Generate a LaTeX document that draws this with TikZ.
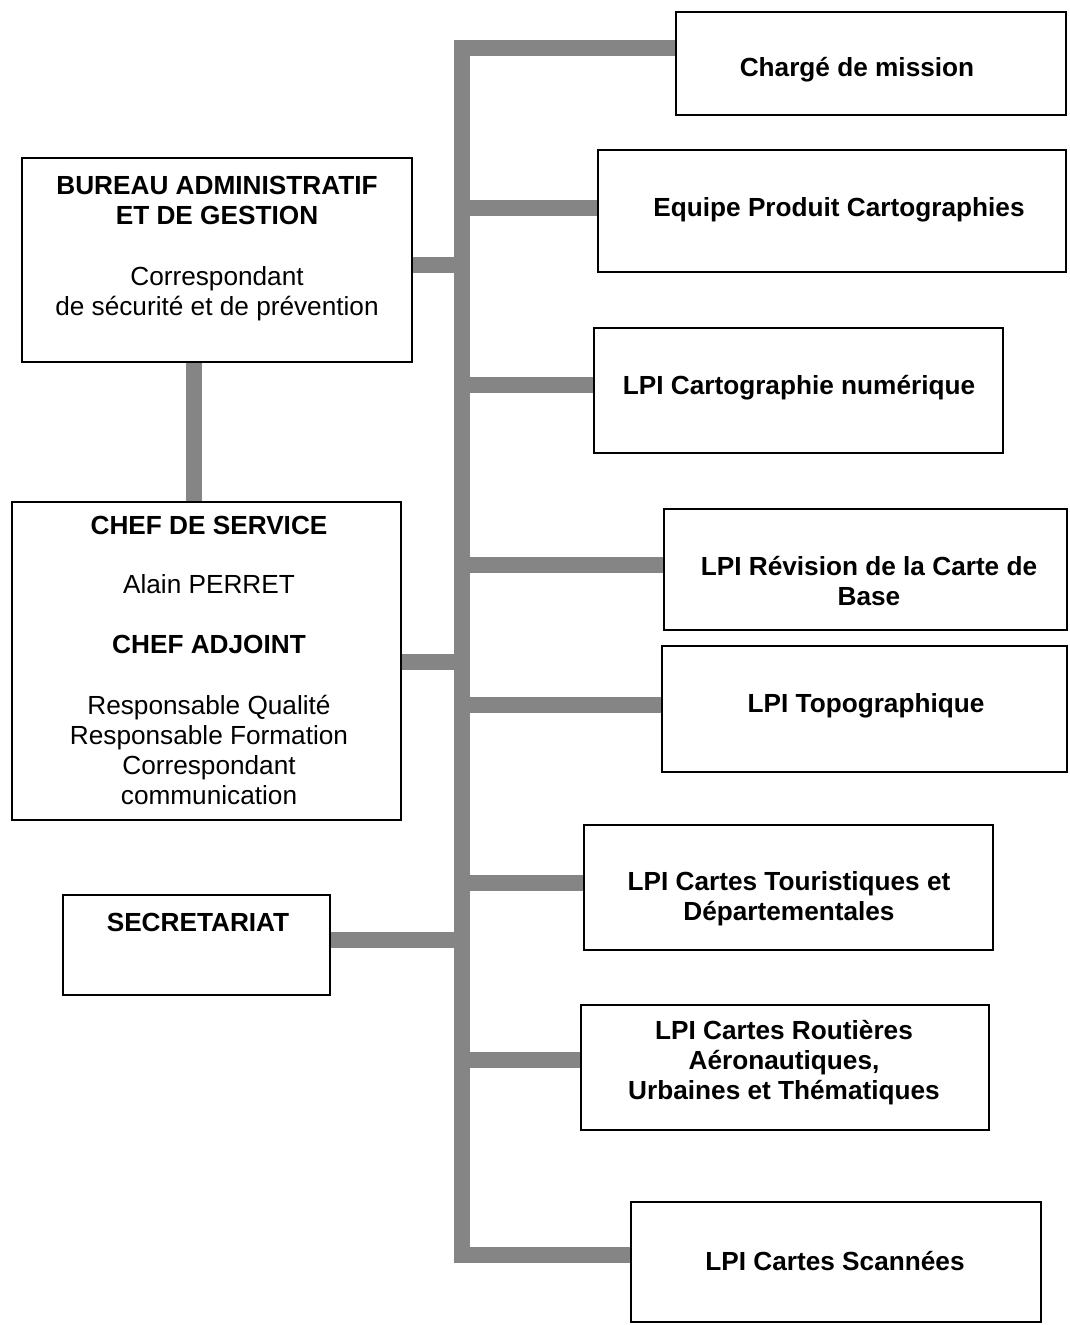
\documentclass[tikz,border=0pt]{standalone}
\usepackage{fontspec}
\setmainfont{Liberation Sans}
\usetikzlibrary{backgrounds}
\begin{document}
\begin{tikzpicture}[x=1pt,y=-1pt,
  box/.style={draw=black, line width=2pt, rectangle, inner sep=0pt},
  conn/.style={line width=16pt, draw=black!48, line join=miter, line cap=butt},
  lbl/.style={align=center, font=\fontsize{26.2}{30}\selectfont\bfseries, inner sep=0pt},
  ]
\useasboundingbox (0,0) rectangle (1069,1325);

% boxes
\node[box, minimum width=390pt, minimum height=103pt] (charge) at (871,63.5) {};
\node[box, minimum width=468pt, minimum height=122pt] (equipe) at (832,211) {};
\node[box, minimum width=409pt, minimum height=125pt] (carto) at (798.5,390.5) {};
\node[box, minimum width=403pt, minimum height=121pt] (revision) at (865.5,569.5) {};
\node[box, minimum width=405pt, minimum height=126pt] (topo) at (864.5,709) {};
\node[box, minimum width=409pt, minimum height=125pt] (touri) at (788.5,887.5) {};
\node[box, minimum width=408pt, minimum height=125pt] (routieres) at (785,1067.5) {};
\node[box, minimum width=410pt, minimum height=120pt] (scannees) at (836,1262) {};
\node[box, minimum width=390pt, minimum height=204pt] (bureau) at (217,260) {};
\node[box, minimum width=389pt, minimum height=318pt] (chef) at (206.5,661) {};
\node[box, minimum width=267pt, minimum height=100pt] (secr) at (196.5,945) {};

% texts
\node[lbl] (tcharge) at (857,70) {Chargé de mission};
\node[lbl] (tequipe) at (839,210) {Equipe Produit Cartographies};
\node[lbl] (tcarto) at (799,388) {LPI Cartographie numérique};
\node[lbl] (trevision) at (869,581.5) {LPI Révision de la Carte de\\Base};
\node[lbl] (ttopo) at (866,706) {LPI Topographique};
\node[lbl] (ttouri) at (789,898.5) {LPI Cartes Touristiques et\\Départementales};
\node[lbl] (troutieres) at (784,1062.5) {LPI Cartes Routières\\Aéronautiques,\\Urbaines et Thématiques};
\node[lbl] (tscannees) at (835,1261) {LPI Cartes Scannées};
\node[lbl] (tbureau) at (217,248.5) {BUREAU ADMINISTRATIF\\ET DE GESTION\\[31pt]\mdseries Correspondant\\\mdseries de sécurité et de prévention};
\node[lbl] (tchef) at (209,660) {CHEF DE SERVICE\\[29pt]\mdseries Alain PERRET\\[30pt]CHEF ADJOINT\\[31pt]\mdseries Responsable Qualité\\\mdseries Responsable Formation\\\mdseries Correspondant\\\mdseries communication};
\node[lbl] (tsecr) at (198,922) {SECRETARIAT};

% connectors
\coordinate (ttop) at (462,48);
\coordinate (tbot) at (462,1255);
\path ([yshift=-5pt]bureau.east) coordinate (cb);
\path ([yshift=-1pt]chef.east) coordinate (cc);
\path ([yshift=5pt]secr.east) coordinate (cs);
\path ([yshift=3pt]equipe.west) coordinate (ce);
\path ([yshift=5.5pt]carto.west) coordinate (cn);
\path ([yshift=4.5pt]revision.west) coordinate (cr);
\path ([yshift=4pt]topo.west) coordinate (ct);
\path ([yshift=4.5pt]touri.west) coordinate (cu);
\path ([yshift=7.5pt]routieres.west) coordinate (co);
\begin{pgfonlayer}{background}
\draw[conn] ([yshift=15.5pt]charge.west) -- (ttop) -- (tbot) -- (tbot -| scannees.west);
\draw[conn] (cb) -- (cb -| ttop);
\draw[conn] (cc) -- (cc -| ttop);
\draw[conn] (cs) -- (cs -| ttop);
\draw[conn] (ce -| ttop) -- (ce);
\draw[conn] (cn -| ttop) -- (cn);
\draw[conn] (cr -| ttop) -- (cr);
\draw[conn] (ct -| ttop) -- (ct);
\draw[conn] (cu -| ttop) -- (cu);
\draw[conn] (co -| ttop) -- (co);
\draw[conn] ([xshift=-23pt]bureau.south) -- ([xshift=-12.5pt]chef.north);
\end{pgfonlayer}
\end{tikzpicture}
\end{document}
